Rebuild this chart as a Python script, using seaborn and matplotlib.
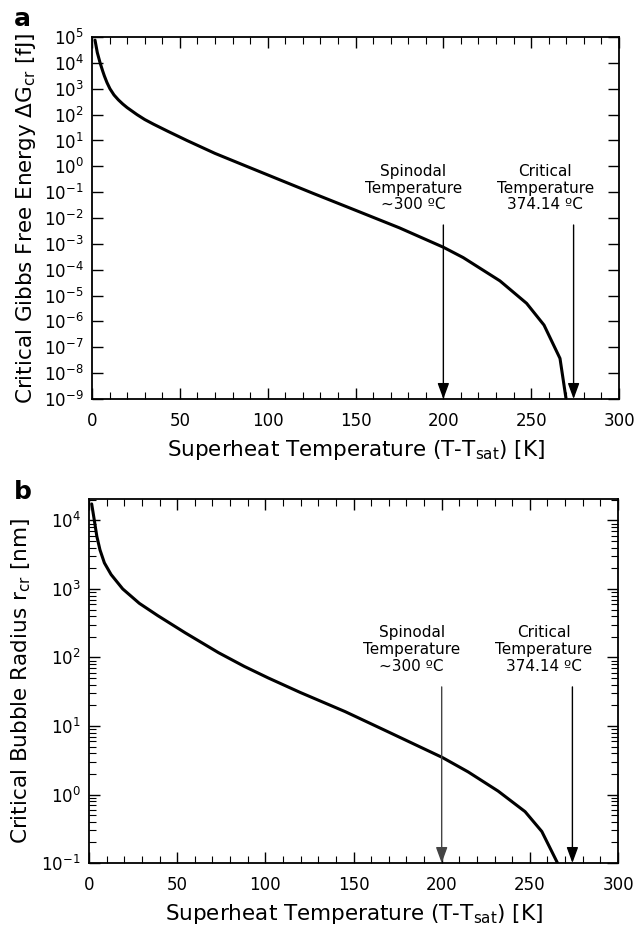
import numpy as np
import pandas as pd
import matplotlib
matplotlib.use("Agg")
import matplotlib.pyplot as plt
from matplotlib.ticker import LogLocator, MultipleLocator, NullLocator
import seaborn as sns

# panel a: critical Gibbs free energy (fJ), log10 values
t_gibbs = [1.7, 3.0, 4.6, 6.0, 7.0, 8.5, 10.2, 12.5, 15.0, 17.5, 20.0, 25.6, 30.0,
           35.0, 43.0, 54.0, 70.0, 88.0, 105.0, 126.0, 150.0, 175.0, 200.0,
           211.3, 232.2, 247.4, 257.3, 266.4, 269.8]
log_gibbs = [4.88, 4.4, 4.0, 3.7, 3.5, 3.24, 3.0, 2.76, 2.57, 2.41, 2.27, 2.0, 1.81,
             1.63, 1.36, 1.0, 0.5, 0.0, -0.47, -1.05, -1.70, -2.38, -3.13,
             -3.53, -4.43, -5.3, -6.14, -7.43, -8.97]

# panel b: critical bubble radius (nm)
t_radius = [1.5, 3.0, 4.4, 6.2, 8.7, 12.5, 19.1, 28.5, 39.0, 54.5, 73.4, 88.0,
            101.7, 119.7, 145.2, 170.0, 200.4, 215.0, 232.0, 247.3, 256.8, 265.7]
log_radius = [4.24, 4.0, 3.77, 3.57, 3.38, 3.21, 3.0, 2.79, 2.61, 2.36, 2.07, 1.87,
              1.70, 1.49, 1.21, 0.91, 0.54, 0.33, 0.05, -0.25, -0.54, -1.0]

spinodal_t = 200
critical_t = 274.14
spinodal_txt = "Spinodal\nTemperature\n~300 ºC"
critical_txt = "Critical\nTemperature\n374.14 ºC"

df_a = pd.DataFrame({"T": t_gibbs, "G": np.power(10.0, log_gibbs)})
df_b = pd.DataFrame({"T": t_radius, "r": np.power(10.0, log_radius)})

sns.set_theme(style="ticks")
plt.rcParams["font.family"] = ["DejaVu Sans"]
plt.rcParams.update({
    "text.color": "black", "axes.labelcolor": "black",
    "xtick.direction": "in", "ytick.direction": "in",
    "xtick.top": True, "ytick.right": True,
    "axes.linewidth": 1.3,
    "xtick.major.size": 8, "xtick.minor.size": 5,
    "ytick.major.size": 8, "ytick.minor.size": 5,
    "xtick.major.width": 1.0, "xtick.minor.width": 0.8,
    "ytick.major.width": 1.0, "ytick.minor.width": 0.8,
    "xtick.major.pad": 9, "ytick.major.pad": 6,
    "xtick.labelsize": 12, "ytick.labelsize": 12,
    "axes.edgecolor": "black", "xtick.color": "black", "ytick.color": "black",
})

fig = plt.figure(figsize=(6.36, 9.26), dpi=100)
ax1 = fig.add_axes([0.1447, 0.5691, 0.8286, 0.3909])
ax2 = fig.add_axes([0.1400, 0.0680, 0.8317, 0.3931])

sns.lineplot(data=df_a, x="T", y="G", ax=ax1, color="black", lw=2.2)
sns.lineplot(data=df_b, x="T", y="r", ax=ax2, color="black", lw=2.2)

ax1.set_yscale("log")
ax1.set_ylim(1e-9, 1e5)
ax1.yaxis.set_major_locator(LogLocator(base=10, numticks=20))
ax1.yaxis.set_minor_locator(NullLocator())

ax2.set_yscale("log")
ax2.set_ylim(1e-1, 2.05e4)
ax2.yaxis.set_major_locator(LogLocator(base=10, numticks=20))
ax2.yaxis.set_minor_locator(LogLocator(base=10, subs=np.arange(2, 10), numticks=20))

xlab = "Superheat Temperature (T-T$_{\\mathregular{sat}}$) [K]"
for ax in (ax1, ax2):
    ax.set_xlim(0, 300)
    ax.xaxis.set_major_locator(MultipleLocator(50))
    ax.xaxis.set_minor_locator(MultipleLocator(10))
    ax.tick_params(which="both", top=True, right=True, direction="in")
    ax.set_xlabel(xlab, fontsize=15.5, labelpad=6)
    for s in ax.spines.values():
        s.set_visible(True)

ax1.set_ylabel("Critical Gibbs Free Energy ΔG$_{\\mathregular{cr}}$ [fJ]",
               fontsize=15.5, labelpad=4)
ax2.set_ylabel("Critical Bubble Radius r$_{\\mathregular{cr}}$ [nm]",
               fontsize=15.5, labelpad=6)

# annotations: text + arrow down to the x axis
def mark(ax, x, xtext, ytext, ystart, ybottom, txt, color):
    ax.text(xtext, ytext, txt, ha="center", va="top", fontsize=11,
            linespacing=1.15, color="black")
    ax.annotate("", xy=(x, ybottom), xytext=(x, ystart),
                arrowprops=dict(arrowstyle="-|>,head_width=0.22,head_length=0.6",
                                color=color, lw=1.0, mutation_scale=16,
                                shrinkA=0, shrinkB=0))

mark(ax1, spinodal_t, 183, 10**0.1, 10**-2.27, 1e-9, spinodal_txt, "black")
mark(ax1, critical_t, 258, 10**0.1, 10**-2.27, 1e-9, critical_txt, "black")
mark(ax2, spinodal_t, 183, 10**2.47, 10**1.57, 1e-1, spinodal_txt, "#444444")
mark(ax2, critical_t, 258, 10**2.47, 10**1.57, 1e-1, critical_txt, "black")

fig.text(0.022, 0.992, "a", fontsize=18, fontweight="bold", va="top")
fig.text(0.022, 0.482, "b", fontsize=18, fontweight="bold", va="top")

fig.savefig("out.png", dpi=100)
